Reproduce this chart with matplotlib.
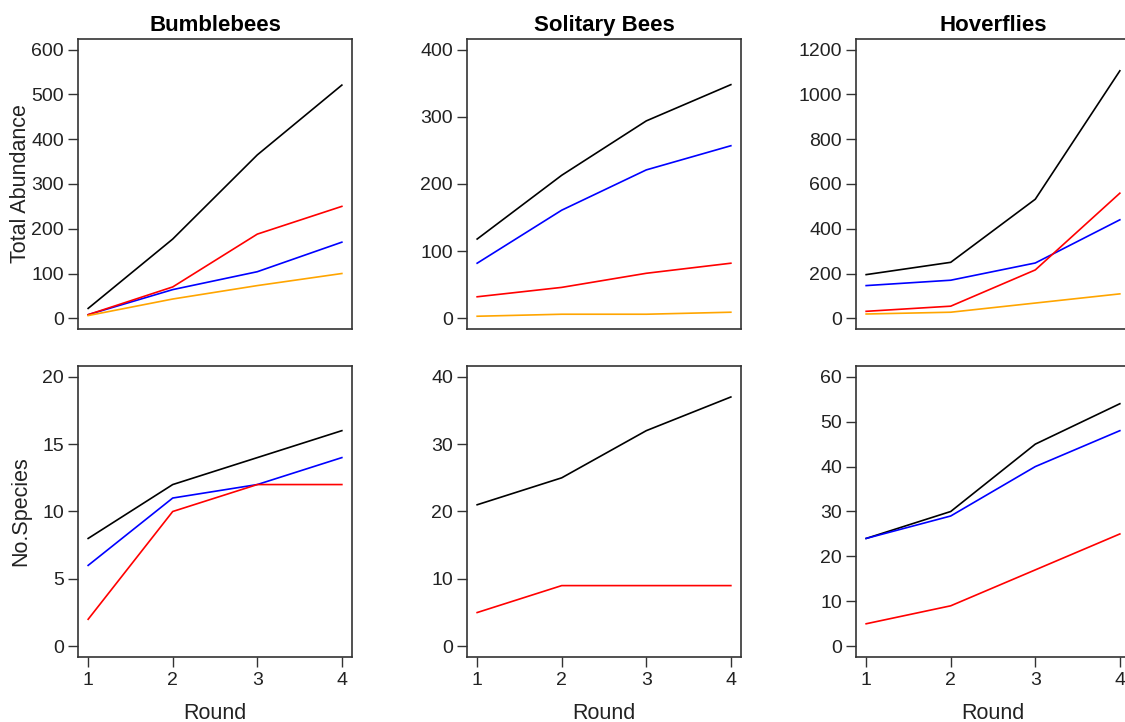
import numpy as np
import matplotlib
matplotlib.use("Agg")
import matplotlib.pyplot as plt

plt.rcParams['font.family'] = ['Liberation Sans', 'DejaVu Sans']

rounds = [1, 2, 3, 4]
groups = ["Bumblebees", "Solitary Bees", "Hoverflies"]

# total abundance per round (black, blue, red, orange)
abund_black = [[22, 177, 365, 521], [118, 213, 294, 348], [195, 250, 532, 1106]]
abund_blue = [[8, 64, 104, 170], [82, 161, 221, 257], [146, 170, 247, 440]]
abund_red = [[8, 70, 188, 250], [32, 46, 67, 82], [31, 54, 216, 559]]
abund_orange = [[6, 43, 73, 100], [3, 6, 6, 9], [19, 27, 68, 109]]

# number of species per round
spp_black = [[8, 12, 14, 16], [21, 25, 32, 37], [24, 30, 45, 54]]
spp_blue = [[6, 11, 12, 14], None, [24, 29, 40, 48]]
spp_red = [[2, 10, 12, 12], [5, 9, 9, 9], [5, 9, 17, 25]]

abund_max = [600, 400, 1200]
abund_step = [100, 100, 200]
spp_max = [20, 40, 60]
spp_step = [5, 10, 10]

W, H = 1125, 722
fig = plt.figure(figsize=(W / 100, H / 100), dpi=100)

col_left = [78, 467, 856]
ax_w = 274
rows = [(39, 329), (366, 657)]


def style(ax, ymax, step, show_x):
    pad = 0.04 * ymax
    ax.set_ylim(-pad, ymax + pad)
    ax.set_xlim(0.88, 4.12)
    ax.set_yticks(np.arange(0, ymax + 1, step))
    for s in ax.spines.values():
        s.set_color('#333333')
        s.set_linewidth(1.2)
    ax.tick_params(axis='y', direction='out', length=7, width=1, colors='#333333',
                   labelcolor='#222222', labelsize=14, pad=3)
    if show_x:
        ax.set_xticks(rounds)
        ax.tick_params(axis='x', direction='out', length=7, width=1, colors='#333333',
                       labelcolor='#222222', labelsize=14, pad=4)
        ax.set_xlabel("Round", fontsize=15.5, color='#222222', labelpad=10)
    else:
        ax.set_xticks([])


for i in range(3):
    top, bot = rows[0]
    ax = fig.add_axes([col_left[i] / W, 1 - bot / H, ax_w / W, (bot - top) / H])
    ax.plot(rounds, abund_black[i], color='black', lw=1.2)
    ax.plot(rounds, abund_blue[i], color='blue', lw=1.2)
    ax.plot(rounds, abund_red[i], color='red', lw=1.2)
    ax.plot(rounds, abund_orange[i], color='orange', lw=1.2)
    style(ax, abund_max[i], abund_step[i], False)
    ax.set_title(groups[i], fontsize=16, fontweight='bold', pad=6)
    if i == 0:
        ax.set_ylabel("Total Abundance", fontsize=15.5, color='#222222')
        ax.yaxis.set_label_coords(-0.17, 0.5)

    top, bot = rows[1]
    ax = fig.add_axes([col_left[i] / W, 1 - bot / H, ax_w / W, (bot - top) / H])
    ax.plot(rounds, spp_black[i], color='black', lw=1.2)
    if spp_blue[i] is not None:
        ax.plot(rounds, spp_blue[i], color='blue', lw=1.2)
    ax.plot(rounds, spp_red[i], color='red', lw=1.2)
    style(ax, spp_max[i], spp_step[i], True)
    if i == 0:
        ax.set_ylabel("No.Species", fontsize=15.5, color='#222222')
        ax.yaxis.set_label_coords(-0.17, 0.5)

fig.savefig("out.png", dpi=100)
